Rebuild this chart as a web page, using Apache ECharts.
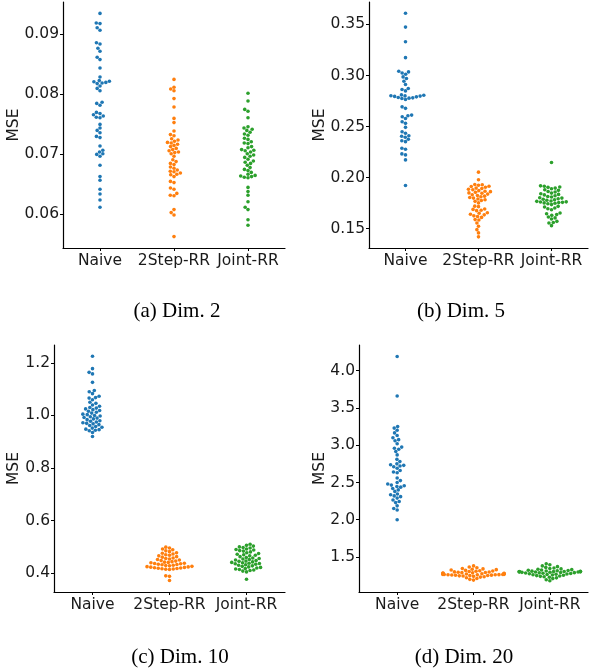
<!DOCTYPE html>
<html>
<head>
<meta charset="utf-8">
<script src="https://cdn.jsdelivr.net/npm/echarts@6/dist/echarts.min.js"></script>
<style>
html,body{margin:0;padding:0;background:#fff;}
#chart{width:589px;height:672px;}
</style>
</head>
<body>
<div id="chart"></div>
<script>
// ---------------- data ----------------
const categories = ['Naive', '2Step-RR', 'Joint-RR'];

// (a) Dim. 2
const naiveA = [0.0934,0.0918,0.0917,0.0910,0.0906,0.0885,0.0883,0.0876,0.0871,0.0861,
0.0857,0.0843,0.0828,0.0822,0.0821,0.0820,0.0819,0.0818,0.0817,0.0813,
0.0809,0.0805,0.0786,0.0784,0.0781,0.0769,0.0767,0.0765,0.0763,0.0761,
0.0760,0.0749,0.0743,0.0739,0.0735,0.0729,0.0727,0.0713,0.0706,0.0703,
0.0700,0.0699,0.0696,0.0681,0.0662,0.0656,0.0641,0.0633,0.0623,0.0611];
const stepA = [0.0824,0.0811,0.0808,0.0805,0.0792,0.0778,0.0759,0.0752,0.0738,0.0732,
0.0730,0.0725,0.0723,0.0721,0.0719,0.0718,0.0716,0.0714,0.0712,0.0709,
0.0707,0.0705,0.0703,0.0702,0.0700,0.0696,0.0687,0.0684,0.0682,0.0678,
0.0676,0.0673,0.0671,0.0670,0.0668,0.0666,0.0665,0.0662,0.0654,0.0652,
0.0643,0.0641,0.0634,0.0631,0.0630,0.0607,0.0602,0.0598,0.0562,0.0690];
const jointA = [0.0801,0.0788,0.0774,0.0771,0.0760,0.0745,0.0743,0.0741,0.0739,0.0736,
0.0733,0.0731,0.0726,0.0724,0.0720,0.0718,0.0717,0.0710,0.0707,0.0706,
0.0705,0.0703,0.0700,0.0698,0.0696,0.0694,0.0691,0.0688,0.0686,0.0684,
0.0681,0.0677,0.0674,0.0672,0.0666,0.0664,0.0663,0.0662,0.0661,0.0660,
0.0644,0.0637,0.0631,0.0620,0.0611,0.0607,0.0590,0.0581,0.0712,0.0669];

// (b) Dim. 5
const naiveB = [0.3610,0.3474,0.3331,0.3175,0.3041,0.3035,0.3025,0.3012,0.2986,0.2970,
0.2944,0.2912,0.2873,0.2863,0.2849,0.2810,0.2806,0.2802,0.2800,0.2798,
0.2795,0.2791,0.2785,0.2781,0.2778,0.2775,0.2765,0.2693,0.2678,0.2612,
0.2605,0.2596,0.2578,0.2547,0.2531,0.2492,0.2449,0.2434,0.2410,0.2405,
0.2395,0.2375,0.2360,0.2352,0.2287,0.2277,0.2232,0.2222,0.2173,0.1922];
const stepB = [0.2053,0.1978,0.1932,0.1929,0.1925,0.1915,0.1912,0.1905,0.1897,0.1893,
0.1885,0.1880,0.1872,0.1866,0.1862,0.1855,0.1850,0.1846,0.1838,0.1832,
0.1825,0.1818,0.1812,0.1805,0.1799,0.1790,0.1783,0.1775,0.1767,0.1752,
0.1720,0.1715,0.1692,0.1688,0.1680,0.1676,0.1655,0.1650,0.1640,0.1635,
0.1625,0.1618,0.1610,0.1588,0.1585,0.1555,0.1523,0.1490,0.1458,0.1419];
const jointB = [0.2147,0.1919,0.1915,0.1908,0.1904,0.1897,0.1890,0.1880,0.1875,0.1864,
0.1858,0.1848,0.1842,0.1835,0.1830,0.1822,0.1815,0.1810,0.1802,0.1799,
0.1793,0.1788,0.1783,0.1778,0.1770,0.1767,0.1762,0.1760,0.1757,0.1755,
0.1752,0.1748,0.1744,0.1735,0.1718,0.1712,0.1702,0.1695,0.1685,0.1653,
0.1645,0.1637,0.1630,0.1614,0.1605,0.1594,0.1571,0.1560,0.1555,0.1529];

// (c) Dim. 10
const naiveC = [1.225,1.178,1.164,1.158,1.126,1.095,1.090,1.083,1.073,1.068,
1.066,1.060,1.050,1.046,1.040,1.035,1.030,1.028,1.025,1.022,
1.019,1.016,1.012,1.009,1.005,1.003,1.000,0.998,0.995,0.992,
0.990,0.987,0.984,0.980,0.978,0.975,0.972,0.970,0.968,0.965,
0.962,0.958,0.955,0.952,0.948,0.946,0.944,0.942,0.935,0.920];
const stepC = [0.499,0.496,0.492,0.489,0.485,0.482,0.478,0.476,0.473,0.470,
0.468,0.466,0.463,0.461,0.458,0.456,0.454,0.452,0.450,0.448,
0.446,0.444,0.442,0.441,0.440,0.438,0.437,0.436,0.434,0.433,
0.432,0.430,0.429,0.428,0.426,0.425,0.424,0.423,0.422,0.421,
0.420,0.419,0.418,0.417,0.416,0.415,0.414,0.390,0.388,0.372];
const jointC = [0.510,0.506,0.503,0.500,0.498,0.496,0.492,0.490,0.488,0.486,
0.484,0.481,0.478,0.475,0.472,0.470,0.468,0.466,0.463,0.460,
0.458,0.456,0.454,0.452,0.450,0.448,0.446,0.445,0.443,0.441,
0.440,0.438,0.437,0.436,0.434,0.432,0.430,0.428,0.426,0.424,
0.422,0.420,0.418,0.416,0.414,0.412,0.410,0.408,0.405,0.377];

// (d) Dim. 20
const naiveD = [4.190,3.660,3.250,3.230,3.200,3.165,3.130,3.100,3.075,3.060,
3.020,2.975,2.960,2.945,2.915,2.870,2.810,2.780,2.750,2.737,
2.730,2.722,2.710,2.690,2.660,2.640,2.630,2.560,2.525,2.500,
2.480,2.465,2.455,2.445,2.437,2.420,2.400,2.380,2.345,2.335,
2.320,2.310,2.290,2.265,2.245,2.230,2.186,2.150,2.130,2.000];
const stepD = [1.380,1.365,1.355,1.345,1.340,1.335,1.330,1.325,1.320,1.315,
1.312,1.308,1.305,1.300,1.298,1.295,1.292,1.290,1.287,1.285,
1.282,1.280,1.278,1.276,1.274,1.272,1.270,1.268,1.267,1.266,
1.265,1.264,1.263,1.262,1.261,1.260,1.258,1.256,1.254,1.252,
1.250,1.247,1.244,1.240,1.235,1.230,1.222,1.212,1.200,1.190];
const jointD = [1.410,1.395,1.380,1.370,1.360,1.352,1.345,1.340,1.335,1.330,
1.326,1.322,1.318,1.315,1.312,1.310,1.308,1.306,1.305,1.304,
1.303,1.302,1.301,1.300,1.299,1.298,1.296,1.294,1.292,1.290,
1.287,1.284,1.281,1.278,1.275,1.272,1.268,1.265,1.262,1.258,
1.254,1.250,1.245,1.240,1.235,1.228,1.220,1.210,1.195,1.180];

const yTicksA = [0.06, 0.07, 0.08, 0.09];
const yTicksB = [0.15, 0.20, 0.25, 0.30, 0.35];
const yTicksC = [0.4, 0.6, 0.8, 1.0, 1.2];
const yTicksD = [1.5, 2.0, 2.5, 3.0, 3.5, 4.0];
const captions = ['(a) Dim. 2', '(b) Dim. 5', '(c) Dim. 10', '(d) Dim. 20'];
const yName = 'MSE';

// ---------------- layout / style ----------------
const colors = ['#1f77b4', '#ff7f0e', '#2ca02c'];
const FONT = 'DejaVu Sans';
const FS = 15.5;
const panels = [
  {series: [naiveA, stepA, jointA], ticks: yTicksA, dec: 2, min: 0.0543, max: 0.0953,
   grid: {left: 63, top: 2, width: 222, height: 246}, nameGap: 41, cap: [177, 311]},
  {series: [naiveB, stepB, jointB], ticks: yTicksB, dec: 2, min: 0.1310, max: 0.3720,
   grid: {left: 369, top: 2, width: 219, height: 246}, nameGap: 41, cap: [461, 311]},
  {series: [naiveC, stepC, jointC], ticks: yTicksC, dec: 1, min: 0.3285, max: 1.2680,
   grid: {left: 54, top: 345, width: 231, height: 247}, nameGap: 32, cap: [180, 657]},
  {series: [naiveD, stepD, jointD], ticks: yTicksD, dec: 1, min: 1.030, max: 4.345,
   grid: {left: 359, top: 345, width: 229, height: 247}, nameGap: 31, cap: [464, 657]}
];

const chart = echarts.init(document.getElementById('chart'), null, {renderer: 'canvas'});

function buildOption(xOffsets) {
  const grid = [], xAxis = [], yAxis = [], series = [], graphic = [];
  panels.forEach((p, k) => {
    grid.push(Object.assign({containLabel: false}, p.grid));
    xAxis.push({
      type: 'category', gridIndex: k, data: categories, boundaryGap: true,
      axisLine: {show: true, onZero: false, lineStyle: {color: '#000', width: 1.2}},
      axisTick: {show: true, alignWithLabel: true, length: 3, lineStyle: {color: '#000'}},
      axisLabel: {color: '#1a1a1a', fontFamily: FONT, fontSize: FS, margin: 5, interval: 0},
      splitLine: {show: false}
    });
    xAxis.push({type: 'value', gridIndex: k, min: -0.5, max: 2.5, show: false});
    yAxis.push({
      type: 'value', gridIndex: k, min: p.min, max: p.max, position: 'left',
      name: yName, nameLocation: 'middle', nameGap: p.nameGap, nameMoveOverlap: false,
      nameTextStyle: {color: '#1a1a1a', fontFamily: FONT, fontSize: FS},
      axisLine: {show: true, onZero: false, lineStyle: {color: '#000', width: 1.2}},
      axisTick: {show: true, length: 3, customValues: p.ticks, lineStyle: {color: '#000'}},
      axisLabel: {show: true, customValues: p.ticks, color: '#1a1a1a', fontFamily: FONT, fontSize: FS, margin: 4,
                  formatter: v => Number(v).toFixed(p.dec)},
      splitLine: {show: false}
    });
    p.series.forEach((vals, c) => {
      const offs = xOffsets ? xOffsets[k][c] : null;
      series.push({
        type: 'scatter', xAxisIndex: 2 * k + 1, yAxisIndex: k,
        symbol: 'circle', symbolSize: 3.6, silent: true,
        itemStyle: {color: colors[c], opacity: 1},
        data: vals.map((v, i) => [c + (offs ? offs[i] : 0), v])
      });
    });
    graphic.push({
      type: 'text', x: p.cap[0], y: p.cap[1],
      style: {text: captions[k], font: '21px "Liberation Serif"', fill: '#000',
              align: 'center', verticalAlign: 'middle', textAlign: 'center', textVerticalAlign: 'middle'}
    });
  });
  return {animation: false, backgroundColor: '#fff', grid, xAxis, yAxis, series, graphic};
}

// first pass: render with points on category centres
chart.setOption(buildOption(null));

// seaborn-style beeswarm in pixel space, using the library's own scales
function beeswarm(ys, d) {
  const order = ys.map((y, i) => i).sort((a, b) => ys[b] - ys[a]);
  const placed = [];
  const xs = new Array(ys.length).fill(0);
  order.forEach(i => {
    const y = ys[i];
    const nb = placed.filter(q => Math.abs(q.y - y) < d);
    const cands = [0];
    let leftFirst = true;
    nb.forEach(q => {
      const dy = y - q.y;
      const dx = Math.sqrt(Math.max(d * d - dy * dy, 0)) * 1.05;
      if (leftFirst) cands.push(q.x - dx, q.x + dx); else cands.push(q.x + dx, q.x - dx);
      leftFirst = !leftFirst;
    });
    const sorted = cands.map((x, j) => ({x, j})).sort((a, b) => (Math.abs(a.x) - Math.abs(b.x)) || (a.j - b.j));
    let chosen = sorted[sorted.length - 1].x;
    for (const c of sorted) {
      if (nb.every(q => (c.x - q.x) ** 2 + (y - q.y) ** 2 >= d * d - 1e-6)) { chosen = c.x; break; }
    }
    placed.push({x: chosen, y});
    xs[i] = chosen;
  });
  return xs;
}

const D = 3.6;
const offsets = panels.map((p, k) => {
  const finder = {xAxisIndex: 2 * k + 1, yAxisIndex: k};
  const p0 = chart.convertToPixel(finder, [0, p.min]);
  const p1 = chart.convertToPixel(finder, [1, p.min]);
  const pxPerCat = p1[0] - p0[0];
  return p.series.map((vals, c) => {
    const ys = vals.map(v => chart.convertToPixel(finder, [c, v])[1]);
    const xs = beeswarm(ys, D);
    return xs.map(x => Math.max(-0.4, Math.min(0.4, x / pxPerCat)));
  });
});

chart.setOption(buildOption(offsets), true);
</script>
</body>
</html>
